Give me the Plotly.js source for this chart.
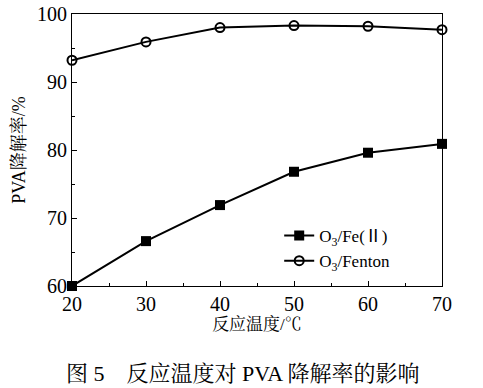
<!DOCTYPE html>
<html><head><meta charset="utf-8">
<script src="https://cdn.plot.ly/plotly-3.0.1.min.js"></script>
<style>html,body{margin:0;padding:0;background:#fff;}</style>
</head><body>
<div id="chart" style="width:483px;height:388px;"></div>
<script>
const temps = [20, 30, 40, 50, 60, 70];
const feII = [60.0, 66.6, 71.9, 76.8, 79.6, 80.9];
const fenton = [93.2, 95.9, 98.0, 98.3, 98.2, 97.7];
const xTicks = [20, 30, 40, 50, 60, 70];
const yTicks = [60, 70, 80, 90, 100];

const serif = 'Liberation Serif, Times New Roman, Noto Sans CJK SC, serif';
const cjk = 'Liberation Serif, Noto Serif CJK SC, Noto Sans CJK SC, serif';

const traces = [
  {x: temps, y: feII, name: 'O<sub>3</sub>/Fe(Ⅱ)', mode: 'lines+markers',
   line: {color: '#000', width: 2}, marker: {symbol: 'square', size: 10, color: '#000'}, cliponaxis: false},
  {x: temps, y: fenton, name: 'O<sub>3</sub>/Fenton', mode: 'lines+markers',
   line: {color: '#000', width: 2}, marker: {symbol: 'circle-open', size: 9, color: '#000', line: {width: 2}}, cliponaxis: false}
];

const layout = {
  width: 483, height: 388,
  margin: {l: 72, r: 41, t: 14, b: 102},
  paper_bgcolor: '#fff', plot_bgcolor: '#fff',
  showlegend: true,
  legend: {x: 0.56, y: 0.25, xanchor: 'left', yanchor: 'top', bgcolor: 'rgba(0,0,0,0)',
           font: {family: serif, size: 17, color: '#000'}, tracegroupgap: 0, itemwidth: 30},
  xaxis: {range: [20, 70], tickvals: xTicks, ticks: 'inside', ticklen: 5, tickcolor: '#000',
          showline: true, linecolor: '#000', linewidth: 1, mirror: true, showgrid: false, zeroline: false,
          minor: {dtick: 5, ticks: 'inside', ticklen: 3, tickcolor: '#000'},
          tickfont: {family: serif, size: 20, color: '#000'},
          title: {text: '反应温度/℃', font: {family: cjk, size: 17, color: '#000'}, standoff: 2}},
  yaxis: {range: [60, 100], tickvals: yTicks, ticks: 'inside', ticklen: 5, tickcolor: '#000',
          showline: true, linecolor: '#000', linewidth: 1, mirror: true, showgrid: false, zeroline: false,
          minor: {dtick: 5, ticks: 'inside', ticklen: 3, tickcolor: '#000'},
          tickfont: {family: serif, size: 20, color: '#000'},
          title: {text: 'PVA降解率/%', font: {family: cjk, size: 18, color: '#000'}, standoff: 6}},
  annotations: [{
    text: '图 5　反应温度对 PVA 降解率的影响', xref: 'paper', yref: 'paper',
    x: 0.46, y: -0.32, xanchor: 'center', yanchor: 'middle', showarrow: false,
    font: {family: cjk, size: 22, color: '#000'}
  }]
};
Plotly.newPlot('chart', traces, layout, {staticPlot: true});
</script>
</body></html>
